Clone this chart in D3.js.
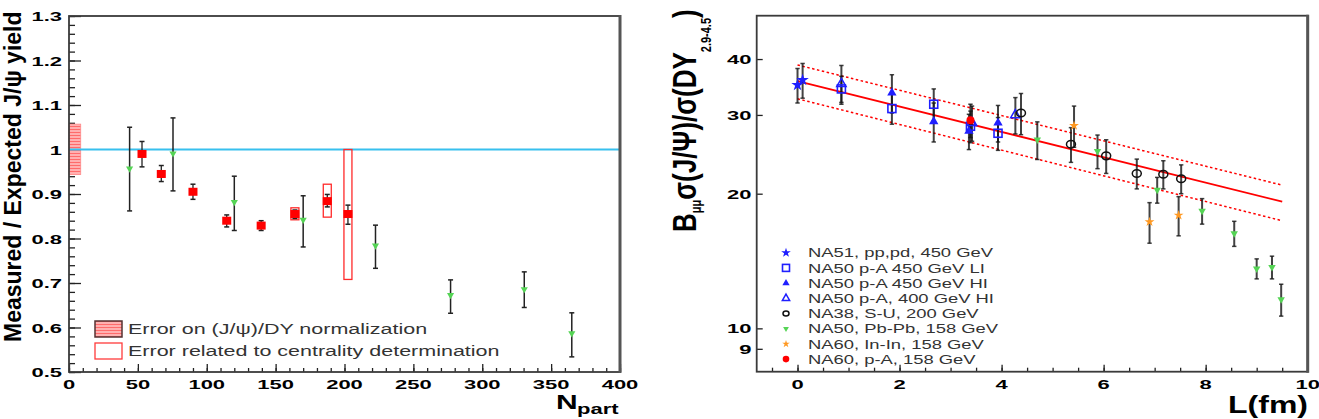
<!DOCTYPE html>
<html>
<head>
<meta charset="utf-8">
<script src="https://cdn.jsdelivr.net/npm/d3@7"></script>
<style>
body { margin: 0; background: #fff; }
svg { display: block; }
</style>
</head>
<body>
<div id="chart"></div>
<script>
// ---- left panel: measured / expected J/psi yield vs Npart ----
var inNpart = [53, 67, 90, 114.5, 139.5, 164, 187.5, 202.5];   // NA60 In-In
var inRatio = [0.990, 0.945, 0.905, 0.840, 0.829, 0.855, 0.884, 0.855];
var inLo    = [0.961, 0.928, 0.888, 0.826, 0.818, 0.845, 0.871, 0.832];
var inHi    = [1.018, 0.964, 0.922, 0.853, 0.840, 0.864, 0.899, 0.875];
var boxNpart = [164, 187.5, 202.5];   // centrality determination errors
var boxLo    = [0.842, 0.848, 0.708];
var boxHi    = [0.869, 0.922, 1.000];
var pbNpart = [44, 75.5, 120, 170, 222.5, 277, 330.5, 365];   // NA50 Pb-Pb
var pbRatio = [0.957, 0.991, 0.882, 0.842, 0.784, 0.673, 0.686, 0.587];
var pbLo    = [0.862, 0.907, 0.818, 0.781, 0.733, 0.632, 0.645, 0.534];
var pbHi    = [1.050, 1.071, 0.940, 0.896, 0.830, 0.707, 0.725, 0.633];
var normLo = 0.944, normHi = 1.057;
var leftXTicks = [0, 50, 100, 150, 200, 250, 300, 350, 400];
var leftYTicks = [0.5, 0.6, 0.7, 0.8, 0.9, 1, 1.1, 1.2, 1.3];
var leftLegend = ["Error on (J/\u03c8)/DY normalization", "Error related to centrality determination"];

// ---- right panel: B sigma(J/psi)/sigma(DY) vs L ----
var fitL = [0, 9.5];
var fitMid = [35.7, 19.2];
var fitUp  = [38.8, 20.9];
var fitLow = [32.6, 17.4];

var na51L = [0, 0.1],  na51V = [35.0, 35.9], na51E = [3.1, 3.2];
var liL = [0.86, 1.85, 2.67, 3.39, 3.93], liV = [34.3, 31.0, 31.7, 28.3, 27.3], liE = [2.3, 2.4, 2.6, 2.3, 2.3];
var hiL = [1.85, 2.67, 3.36, 3.93], hiV = [33.6, 29.0, 27.6, 28.8], hiE = [3.3, 2.9, 2.5, 2.7];
var hi400L = [0.86, 3.42, 4.27], hi400V = [35.2, 28.8, 30.0], hi400E = [3.5, 2.6, 2.8];
var suL = [4.38, 5.36, 6.05, 6.65, 7.17, 7.52], suV = [30.3, 25.8, 24.3, 22.2, 22.1, 21.6], suE = [3.2, 2.3, 2.1, 1.7, 1.6, 1.6];
var pbL = [4.7, 5.88, 7.05, 7.93, 8.56, 9.0, 9.3, 9.48], pbV = [26.4, 24.9, 20.4, 18.3, 16.3, 13.6, 13.7, 11.6], pbE = [2.55, 2.15, 1.35, 1.2, 1.05, 0.7, 0.8, 0.95];
var ininL = [5.42, 6.9, 7.47], ininV = [28.4, 17.3, 17.9], ininE = [3.0, 1.8, 1.8];
var paL = [3.39], paV = [29.2], paE = [2.5];
var rightXTicks = [0, 2, 4, 6, 8, 10];
var rightYTicks = [9, 10, 20, 30, 40];
var rightLegend = ["NA51, pp,pd, 450 GeV", "NA50 p-A 450 GeV LI", "NA50 p-A 450 GeV HI", "NA50 p-A, 400 GeV HI",
                   "NA38, S-U, 200 GeV", "NA50, Pb-Pb, 158 GeV", "NA60, In-In, 158 GeV", "NA60, p-A, 158 GeV"];

var FONT = "'Liberation Sans', Arial, Helvetica, sans-serif";
var BLUE = "#1f1fff", GREEN = "#55d455", ORANGE = "#ff9922", RED = "#ff0000";

var svg = d3.select("#chart").append("svg").attr("width", 1319).attr("height", 419);

defs = svg.append("defs");
var pat = defs.append("pattern").attr("id", "hatch").attr("patternUnits", "userSpaceOnUse")
    .attr("width", 4).attr("height", 3);
pat.append("rect").attr("width", 4).attr("height", 3).attr("fill", "#ffb0b0");
pat.append("line").attr("x1", 0).attr("y1", 0.5).attr("x2", 4).attr("y2", 0.5).attr("stroke", "#ff6b6b").attr("stroke-width", 1);

// text squashed vertically, like the original renderer
function txt(g, x, y, s, size, opt) {
    opt = opt || {};
    return g.append("text")
        .attr("transform", "translate(" + x + "," + y + ") scale(1," + (opt.k || 1) + ")")
        .attr("font-family", FONT)
        .attr("font-size", size)
        .attr("font-weight", opt.bold ? "bold" : "normal")
        .attr("text-anchor", opt.anchor || "start")
        .attr("fill", opt.color || "#000")
        .text(s);
}

function errBar(g, x, y1, y2, color, w, cap) {
    g.append("line").attr("x1", x).attr("x2", x).attr("y1", y1).attr("y2", y2)
        .attr("stroke", color).attr("stroke-width", w);
    [y1, y2].forEach(function(y) {
        g.append("line").attr("x1", x - cap).attr("x2", x + cap).attr("y1", y).attr("y2", y)
            .attr("stroke", color).attr("stroke-width", 1.5);
    });
}

function frame(g, x0, y0, x1, y1) {
    g.append("rect").attr("x", x0).attr("y", y0).attr("width", x1 - x0).attr("height", y1 - y0)
        .attr("fill", "none").attr("stroke", "#3a3a3a").attr("stroke-width", 1.8);
    g.append("line").attr("x1", x1).attr("x2", x1).attr("y1", y0 - 1).attr("y2", y1 + 1)
        .attr("stroke", "#555").attr("stroke-width", 3);
}

// ================= LEFT PANEL =================
var L = svg.append("g");
var xL = d3.scaleLinear().domain([0, 400]).range([69, 620]);
var yL = d3.scaleLinear().domain([0.5, 1.3]).range([372, 16]);

// ticks (inside the frame)
L.append("g").attr("transform", "translate(0,372)")
    .call(d3.axisBottom(xL).tickValues(d3.range(0, 401, 10)).tickSize(-4).tickFormat(""));
L.append("g").attr("transform", "translate(0,372)")
    .call(d3.axisBottom(xL).tickValues(leftXTicks).tickSize(-8).tickFormat(""));
L.append("g").attr("transform", "translate(69,0)")
    .call(d3.axisLeft(yL).tickValues(d3.range(0.5, 1.301, 0.02)).tickSize(-6).tickFormat(""));
L.append("g").attr("transform", "translate(69,0)")
    .call(d3.axisLeft(yL).tickValues(leftYTicks).tickSize(-12).tickFormat(""));
L.selectAll(".domain").remove();
L.selectAll(".tick line").attr("stroke", "#222").attr("stroke-width", 1.3);

leftXTicks.forEach(function(v) {
    txt(L, xL(v), 389, String(v), 22, {bold: true, k: 0.62, anchor: "middle"});
});
leftYTicks.forEach(function(v) {
    txt(L, 62, yL(v) + 5, String(v), 22, {bold: true, k: 0.62, anchor: "end"});
});

// normalization box at Npart ~ 0
L.append("rect").attr("x", xL(0)).attr("width", xL(8.5) - xL(0))
    .attr("y", yL(normHi)).attr("height", yL(normLo) - yL(normHi))
    .attr("fill", "url(#hatch)").attr("stroke", "#ff8888").attr("stroke-width", 0.8);

// reference line at 1
L.append("line").attr("x1", xL(0)).attr("x2", xL(400)).attr("y1", yL(1)).attr("y2", yL(1))
    .attr("stroke", "#38c0ee").attr("stroke-width", 2);

// centrality boxes
boxNpart.forEach(function(n, i) {
    L.append("rect").attr("x", xL(n) - 4).attr("width", 8)
        .attr("y", yL(boxHi[i])).attr("height", yL(boxLo[i]) - yL(boxHi[i]))
        .attr("fill", "none").attr("stroke", "#ff2a2a").attr("stroke-width", 1.3);
});

// NA50 Pb-Pb
pbNpart.forEach(function(n, i) {
    errBar(L, xL(n), yL(pbHi[i]), yL(pbLo[i]), "#222", 1.5, 2.5);
});
L.selectAll(".pbpt").data(pbNpart).enter().append("path")
    .attr("transform", function(d, i) { return "translate(" + xL(d) + "," + yL(pbRatio[i]) + ") rotate(180)"; })
    .attr("d", d3.symbol(d3.symbolTriangle, 22)())
    .attr("fill", GREEN);

// NA60 In-In
inNpart.forEach(function(n, i) {
    errBar(L, xL(n), yL(inHi[i]), yL(inLo[i]), "#222", 1.3, 2.5);
});
L.selectAll(".inpt").data(inNpart).enter().append("rect")
    .attr("x", function(d) { return xL(d) - 4.5; })
    .attr("y", function(d, i) { return yL(inRatio[i]) - 4; })
    .attr("width", 9).attr("height", 8)
    .attr("fill", RED);

frame(L, 69, 16, 620, 372);

// legend
L.append("rect").attr("x", 95).attr("y", 321).attr("width", 27).attr("height", 16)
    .attr("fill", "url(#hatch)").attr("stroke", "#553333").attr("stroke-width", 1.5);
L.append("rect").attr("x", 95).attr("y", 343).attr("width", 27).attr("height", 16)
    .attr("fill", "#fff").attr("stroke", "#ff3b3b").attr("stroke-width", 1.3);
txt(L, 128, 333.5, leftLegend[0], 21.5, {k: 0.65, color: "#333"});
txt(L, 128, 356, leftLegend[1], 21.5, {k: 0.65, color: "#333"});

// axis titles
L.append("text").attr("transform", "translate(21,342) rotate(-90)")
    .attr("font-family", FONT).attr("font-size", 23).attr("font-weight", "bold")
    .text("Measured / Expected J/\u03c8 yield");
txt(L, 556, 409, "N", 30, {bold: true, k: 0.7});
txt(L, 577, 414, "part", 22, {bold: true, k: 0.7});

// ================= RIGHT PANEL =================
var R = svg.append("g");
var xR = d3.scaleLinear().domain([-0.8, 10]).range([756.7, 1307.7]);
var yR = d3.scaleLog().domain([8, 50]).range([371.7, 15.7]);

R.append("g").attr("transform", "translate(0,371.7)")
    .call(d3.axisBottom(xR).tickValues(d3.range(-0.5, 10.01, 0.5)).tickSize(-4).tickFormat(""));
R.append("g").attr("transform", "translate(0,371.7)")
    .call(d3.axisBottom(xR).tickValues(rightXTicks).tickSize(-7).tickFormat(""));
R.append("g").attr("transform", "translate(756.7,0)")
    .call(d3.axisLeft(yR).tickValues(rightYTicks).tickSize(-6).tickFormat(""));
R.selectAll(".domain").remove();
R.selectAll(".tick line").attr("stroke", "#222").attr("stroke-width", 1.3);

rightXTicks.forEach(function(v) {
    txt(R, xR(v), 389, String(v), 22, {bold: true, k: 0.62, anchor: "middle"});
});
rightYTicks.forEach(function(v) {
    txt(R, 751.5, yR(v) + 5, String(v), 22, {bold: true, k: 0.62, anchor: "end"});
});

// fit and its band
var fitLine = function(vals) {
    return d3.line().x(function(d) { return xR(d); }).y(function(d, i) { return yR(vals[i]); })(fitL);
};
R.append("path").attr("d", fitLine(fitMid)).attr("fill", "none").attr("stroke", RED).attr("stroke-width", 1.8);
[fitUp, fitLow].forEach(function(v) {
    R.append("path").attr("d", fitLine(v)).attr("fill", "none").attr("stroke", RED)
        .attr("stroke-width", 1.5).attr("stroke-dasharray", "2.5,2.5");
});

// error bars for all series
var series = [
    [na51L, na51V, na51E], [liL, liV, liE], [hiL, hiV, hiE], [hi400L, hi400V, hi400E],
    [suL, suV, suE], [pbL, pbV, pbE], [ininL, ininV, ininE], [paL, paV, paE]
];
series.forEach(function(s) {
    s[0].forEach(function(l, i) {
        errBar(R, xR(l), yR(s[1][i] + s[2][i]), yR(s[1][i] - s[2][i]), "rgba(20,20,20,0.8)", 2, 2.2);
    });
});

// marker drawing
function marker(g, kind, x, y, big) {
    var f = big ? 1 : 0.6;
    if (kind === "star") {
        g.append("path").attr("transform", "translate(" + x + "," + y + ")")
            .attr("d", d3.symbol(d3.symbolStar, 48 * f)()).attr("fill", BLUE);
    } else if (kind === "sq") {
        var a = big ? 8 : 7;
        g.append("rect").attr("x", x - a / 2).attr("y", y - a / 2).attr("width", a).attr("height", a)
            .attr("fill", "none").attr("stroke", BLUE).attr("stroke-width", 1.6);
    } else if (kind === "tri") {
        g.append("path").attr("transform", "translate(" + x + "," + y + ")")
            .attr("d", d3.symbol(d3.symbolTriangle, 38 * f)()).attr("fill", BLUE);
    } else if (kind === "otri") {
        g.append("path").attr("transform", "translate(" + x + "," + y + ")")
            .attr("d", d3.symbol(d3.symbolTriangle, 38 * f)()).attr("fill", "none")
            .attr("stroke", BLUE).attr("stroke-width", 1.5);
    } else if (kind === "circ") {
        g.append("ellipse").attr("cx", x).attr("cy", y).attr("rx", big ? 4.5 : 3).attr("ry", big ? 3.8 : 2.5)
            .attr("fill", "none").attr("stroke", "#111").attr("stroke-width", 1.5);
    } else if (kind === "dtri") {
        g.append("path").attr("transform", "translate(" + x + "," + y + ") rotate(180)")
            .attr("d", d3.symbol(d3.symbolTriangle, 24 * f)()).attr("fill", GREEN);
    } else if (kind === "ostar") {
        g.append("path").attr("transform", "translate(" + x + "," + y + ")")
            .attr("d", d3.symbol(d3.symbolStar, 30 * f)()).attr("fill", ORANGE);
    } else if (kind === "dot") {
        g.append("circle").attr("cx", x).attr("cy", y).attr("r", big ? 4 : 3.3).attr("fill", RED);
    }
}
var kinds = ["star", "sq", "tri", "otri", "circ", "dtri", "ostar", "dot"];
series.forEach(function(s, k) {
    s[0].forEach(function(l, i) {
        marker(R, kinds[k], xR(l), yR(s[1][i]), true);
    });
});

frame(R, 756.7, 15.7, 1307.7, 371.7);

// legend
rightLegend.forEach(function(lab, i) {
    var y = 252.7 + i * 15.2;
    marker(R, kinds[i], 786, y, false);
    txt(R, 808, y + 4.6, lab, 18.4, {k: 0.68, color: "#333"});
});

// axis titles
var yt = R.append("text").attr("transform", "translate(696,232) rotate(-90) scale(1,1.25)")
    .attr("font-family", FONT).attr("font-weight", "bold").attr("font-size", 26);
yt.append("tspan").text("B");
yt.append("tspan").attr("font-size", 11).attr("dy", 4).text("\u03bc\u03bc");
yt.append("tspan").attr("font-size", 26).attr("dy", -4).text("\u03c3(J/\u03a8)/\u03c3(DY");
yt.append("tspan").attr("font-size", 11).attr("dy", 12).text("2.9-4.5");
yt.append("tspan").attr("font-size", 26).attr("dy", -12).text(")");
txt(R, 1308, 413, "L(fm)", 32, {bold: true, k: 0.72, anchor: "end"});
</script>
</body>
</html>
